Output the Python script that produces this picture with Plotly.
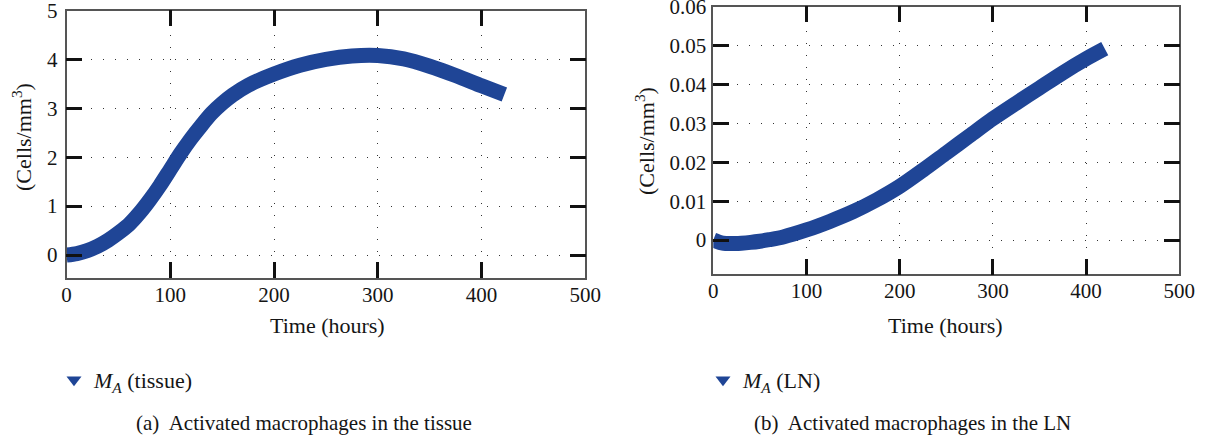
import plotly.graph_objects as go

# ---------------- data ----------------
t_tissue = [0, 10, 20, 30, 40, 50, 60, 70, 80, 90, 100, 110, 120, 130, 140, 150,
            160, 175, 200, 225, 250, 275, 300, 325, 350, 375, 400, 422]
ma_tissue = [0.00, 0.03, 0.09, 0.18, 0.30, 0.45, 0.62, 0.85, 1.12, 1.42, 1.75, 2.08,
             2.38, 2.65, 2.90, 3.10, 3.27, 3.47, 3.70, 3.88, 4.00, 4.07, 4.08, 4.01,
             3.86, 3.67, 3.46, 3.28]

t_ln = [0, 10, 20, 30, 40, 50, 60, 75, 100, 125, 150, 175, 200, 225, 250, 275,
        300, 325, 350, 375, 400, 420]
ma_ln = [0.0000, -0.0008, -0.0009, -0.0008, -0.0006, -0.0003, 0.0001, 0.0008,
         0.0026, 0.0048, 0.0073, 0.0103, 0.0138, 0.0180, 0.0224, 0.0268, 0.0312,
         0.0352, 0.0391, 0.0430, 0.0466, 0.0492]

x_ticks = [0, 100, 200, 300, 400, 500]
y1_ticks = [0, 1, 2, 3, 4, 5]
y2_ticks = [0, 0.01, 0.02, 0.03, 0.04, 0.05, 0.06]
y2_ticktext = ["0", "0.01", "0.02", "0.03", "0.04", "0.05", "0.06"]

legend_a = "<i>M</i><sub><i>A</i></sub> (tissue)"
legend_b = "<i>M</i><sub><i>A</i></sub> (LN)"
caption_a = "(a)  Activated macrophages in the tissue"
caption_b = "(b)  Activated macrophages in the LN"
x_title = "Time (hours)"
y_title = "(Cells/mm<sup>3</sup>)"

# ---------------- style ----------------
W, H = 1208, 440
BLUE = "#1f4596"
FONT = "Liberation Serif"
FS = 21
FT = 22
FC = 21
TXT = "#151515"

def px_x(p):
    return p / W

def px_y(p):
    return 1 - p / H

fig = go.Figure()

fig.add_trace(go.Scatter(x=t_tissue, y=ma_tissue, mode="lines",
                         line=dict(color=BLUE, width=15, shape="spline", smoothing=0.8),
                         xaxis="x", yaxis="y", showlegend=False))
fig.add_trace(go.Scatter(x=[None], y=[None], mode="markers", name=legend_a,
                         marker=dict(symbol="triangle-down", size=13, color=BLUE),
                         xaxis="x", yaxis="y", legend="legend"))

fig.add_trace(go.Scatter(x=t_ln, y=ma_ln, mode="lines",
                         line=dict(color=BLUE, width=15, shape="spline", smoothing=0.8),
                         xaxis="x2", yaxis="y2", showlegend=False))
fig.add_trace(go.Scatter(x=[None], y=[None], mode="markers", name=legend_b,
                         marker=dict(symbol="triangle-down", size=13, color=BLUE),
                         xaxis="x2", yaxis="y2", legend="legend2"))

axis_common = dict(
    showline=True, mirror="ticks", linecolor="#555555", linewidth=1.5,
    ticks="inside", ticklen=16, tickwidth=2.5, tickcolor="#111111",
    showgrid=True, gridcolor="#333333", gridwidth=1.2, griddash="1px,11px",
    zeroline=False, ticklabeloverflow="allow", automargin=False,
    tickfont=dict(family=FONT, size=FS, color=TXT),
)

fig.update_layout(
    width=W, height=H,
    margin=dict(l=0, r=0, t=0, b=0),
    paper_bgcolor="white", plot_bgcolor="white",
    font=dict(family=FONT, size=FS, color=TXT),
    xaxis=dict(domain=[px_x(66.5), px_x(585.3)], range=[0, 500], tickvals=x_ticks,
               anchor="y", ticklabelstandoff=-3, **axis_common),
    yaxis=dict(domain=[px_y(278), px_y(10.5)], range=[-0.47, 5], tickvals=y1_ticks,
               anchor="x", ticklabelstandoff=3, **axis_common),
    xaxis2=dict(domain=[px_x(713.3), px_x(1179.3)], range=[0, 500], tickvals=x_ticks,
                anchor="y2", ticklabelstandoff=-3, **axis_common),
    yaxis2=dict(domain=[px_y(274.3), px_y(6.7)], range=[-0.0088, 0.06],
                tickvals=y2_ticks, ticktext=y2_ticktext,
                anchor="x2", ticklabelstandoff=1, **axis_common),
    legend=dict(x=px_x(54), y=px_y(380), xanchor="left", yanchor="middle",
                bgcolor="rgba(0,0,0,0)", font=dict(family=FONT, size=FT, color=TXT)),
    legend2=dict(x=px_x(703), y=px_y(380), xanchor="left", yanchor="middle",
                 bgcolor="rgba(0,0,0,0)", font=dict(family=FONT, size=FT, color=TXT)),
)

annots = [
    dict(x=px_x(327), y=px_y(325), text=x_title, size=FT),
    dict(x=px_x(946), y=px_y(325), text=x_title, size=FT),
    dict(x=px_x(22), y=px_y(137), text=y_title, textangle=-90, size=FT),
    dict(x=px_x(645), y=px_y(141), text=y_title, textangle=-90, size=FT),
    dict(x=px_x(304), y=px_y(423), text=caption_a, size=FC),
    dict(x=px_x(912), y=px_y(423), text=caption_b, size=FC),
]
for a in annots:
    size = a.pop("size")
    fig.add_annotation(xref="paper", yref="paper", showarrow=False,
                       xanchor="center", yanchor="middle",
                       font=dict(family=FONT, size=size, color=TXT), **a)

fig.write_html("out.html")
